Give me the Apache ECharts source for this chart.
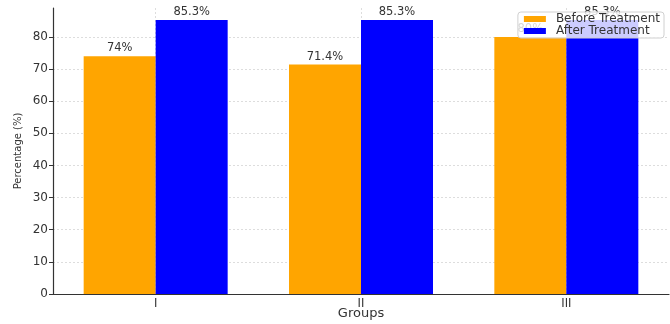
<!DOCTYPE html>
<html>
<head>
<meta charset="utf-8">
<script src="https://cdn.jsdelivr.net/npm/echarts@6/dist/echarts.min.js"></script>
<style>
	html, body { margin: 0; padding: 0; background: #fff; }
	#chart { width: 670px; height: 324px; }
</style>
</head>
<body>
<div id="chart"></div>
<script>
let groups = ['I', 'II', 'III'];
let before_values = [74, 71.4, 80];
let after_values = [85.3, 85.3, 85.3];
// 半格位置, 只用来画竖向网格线
let half_steps = ['', 'I', '', 'II', '', 'III', ''];

let font = 'DejaVu Sans';
let chart = echarts.init(document.getElementById('chart'));

let bar_label = {
	show: true,
	position: 'top',
	distance: 2,
	color: '#333',
	fontFamily: font,
	fontSize: 11.5,
	formatter: (p) => p.value + '%',
};

let option = {
	animation: false,
	grid: { left: 53, right: 1, top: 8, bottom: 30, outerBoundsMode: 'none', containLabel: false },
	legend: {
		orient: 'vertical',
		right: 6,
		top: 12,
		itemWidth: 22,
		itemHeight: 6,
		itemGap: 0,
		padding: [1, 4, 1, 6],
		backgroundColor: 'rgba(255,255,255,0.8)',
		borderColor: '#d0d0d0',
		borderWidth: 1,
		borderRadius: 3,
		icon: 'rect',
		textStyle: { fontFamily: font, fontSize: 12, color: '#333', lineHeight: 12, padding: [0, 0, 0, 5] },
		data: ['Before Treatment', 'After Treatment'],
	},
	xAxis: [
		{
			type: 'category',
			data: groups,
			name: 'Groups',
			nameLocation: 'middle',
			nameGap: 13,
			nameMoveOverlap: false,
			nameTextStyle: { fontFamily: font, fontSize: 13, color: '#333' },
			axisLine: { lineStyle: { color: '#333', width: 1.2 } },
			axisTick: { alignWithLabel: true, length: 4, lineStyle: { color: '#333' } },
			axisLabel: { fontFamily: font, fontSize: 11.5, color: '#333', margin: 4 },
			splitLine: { show: false },
		},
		{
			type: 'category',
			data: half_steps,
			boundaryGap: false,
			position: 'bottom',
			axisLine: { show: false },
			axisTick: { show: false },
			axisLabel: { show: false },
			splitLine: {
				show: true,
				interval: (i) => i % 2 === 1,
				lineStyle: { color: '#ddd', type: [2, 2], width: 1 },
			},
		},
	],
	yAxis: {
		type: 'value',
		min: 0,
		max: 89,
		interval: 10,
		name: 'Percentage (%)',
		nameLocation: 'middle',
		nameGap: 30,
		nameMoveOverlap: false,
		nameTextStyle: { fontFamily: font, fontSize: 10, color: '#333' },
		axisLine: { show: true, lineStyle: { color: '#333', width: 1.2 } },
		axisTick: { show: true, length: 4, lineStyle: { color: '#333' } },
		axisLabel: { fontFamily: font, fontSize: 12, color: '#333', margin: 5, showMaxLabel: false },
		splitLine: { show: true, showMaxLine: false, lineStyle: { color: '#ddd', type: [2, 2], width: 1 } },
	},
	series: [
		{
			name: 'Before Treatment',
			type: 'bar',
			data: before_values,
			barWidth: 72,
			barGap: '0%',
			itemStyle: { color: '#FFA500' },
			label: bar_label,
		},
		{
			name: 'After Treatment',
			type: 'bar',
			data: after_values,
			barWidth: 72,
			barGap: '0%',
			itemStyle: { color: '#0000FF' },
			label: bar_label,
		},
	],
};
chart.setOption(option);
</script>
</body>
</html>
